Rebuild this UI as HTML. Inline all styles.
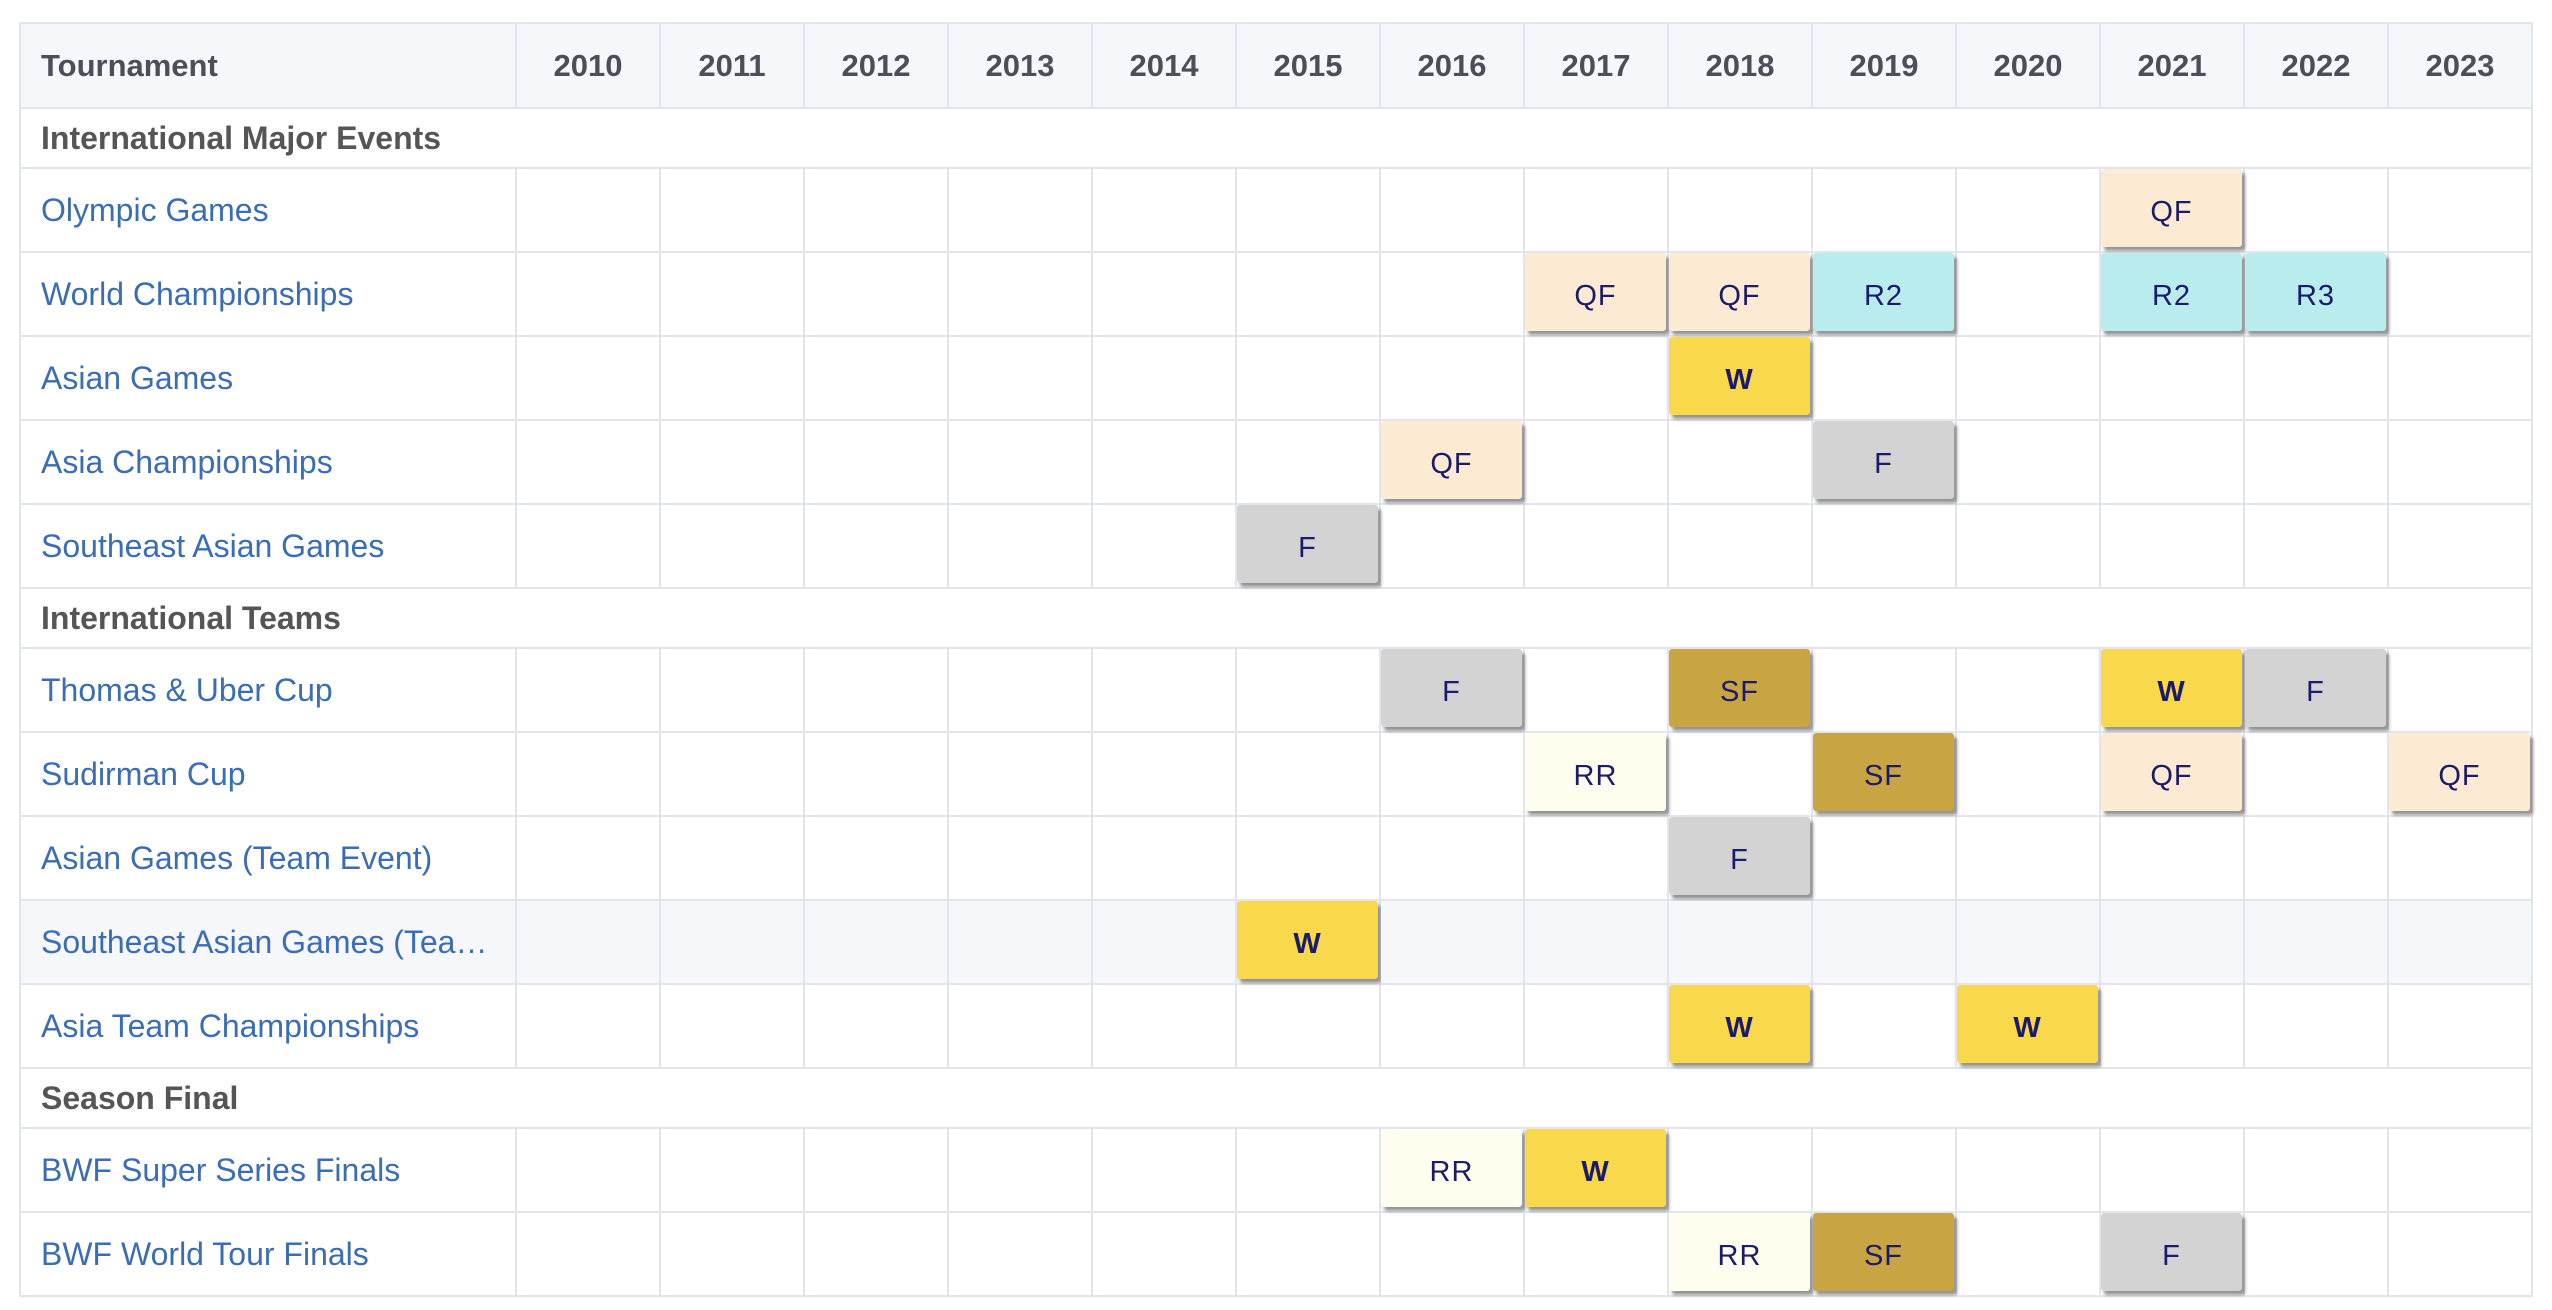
<!DOCTYPE html>
<html><head><meta charset="utf-8"><style>
body{margin:0;width:2552px;height:1310px;background:#fff;font-family:"Liberation Sans",sans-serif;overflow:hidden}
table{position:absolute;left:19px;top:22px;border-collapse:collapse;table-layout:fixed;width:2512px}
td,th{border:2px solid #e2e6ec;padding:0;position:relative}
th{background:#f5f7fa;height:83px;font-size:31px;color:#4a4f5a;font-weight:bold;text-align:center}
th.t{text-align:left;padding-left:20px}
tr.d td{height:82px}
td.n{font-size:32px;color:#3a6db3;padding-left:20px;white-space:nowrap;overflow:hidden}
tr.s td{height:58px;font-size:32px;font-weight:bold;color:#555;padding-left:20px;border-left:2px solid #e2e6ec}
tr.g td{background:#f5f7fa}
.b{position:absolute;left:0px;top:0px;right:1px;bottom:4px;border-radius:3px;box-shadow:3px 4px 3px rgba(60,60,60,.55);display:flex;align-items:center;justify-content:center;padding-top:8px;box-sizing:border-box;font-size:29px;color:#1b1b6b;letter-spacing:1px}
.QF{background:#fcebd2}.R{background:#b9ecec}.W{background:#f9d84b;font-weight:bold}.F{background:#d3d3d3}.SF{background:#c9a443}.RR{background:#fffdee}
</style></head><body>
<table>
<colgroup><col style="width:496px"><col span="14" style="width:144px"></colgroup>
<tr><th class="t">Tournament</th><th>2010</th><th>2011</th><th>2012</th><th>2013</th><th>2014</th><th>2015</th><th>2016</th><th>2017</th><th>2018</th><th>2019</th><th>2020</th><th>2021</th><th>2022</th><th>2023</th></tr>
<tr class="s"><td colspan="15">International Major Events</td></tr>
<tr class="d"><td class="n">Olympic Games</td><td></td><td></td><td></td><td></td><td></td><td></td><td></td><td></td><td></td><td></td><td></td><td><div class="b QF">QF</div></td><td></td><td></td></tr>
<tr class="d"><td class="n">World Championships</td><td></td><td></td><td></td><td></td><td></td><td></td><td></td><td><div class="b QF">QF</div></td><td><div class="b QF">QF</div></td><td><div class="b R">R2</div></td><td></td><td><div class="b R">R2</div></td><td><div class="b R">R3</div></td><td></td></tr>
<tr class="d"><td class="n">Asian Games</td><td></td><td></td><td></td><td></td><td></td><td></td><td></td><td></td><td><div class="b W">W</div></td><td></td><td></td><td></td><td></td><td></td></tr>
<tr class="d"><td class="n">Asia Championships</td><td></td><td></td><td></td><td></td><td></td><td></td><td><div class="b QF">QF</div></td><td></td><td></td><td><div class="b F">F</div></td><td></td><td></td><td></td><td></td></tr>
<tr class="d"><td class="n">Southeast Asian Games</td><td></td><td></td><td></td><td></td><td></td><td><div class="b F">F</div></td><td></td><td></td><td></td><td></td><td></td><td></td><td></td><td></td></tr>
<tr class="s"><td colspan="15">International Teams</td></tr>
<tr class="d"><td class="n">Thomas &amp; Uber Cup</td><td></td><td></td><td></td><td></td><td></td><td></td><td><div class="b F">F</div></td><td></td><td><div class="b SF">SF</div></td><td></td><td></td><td><div class="b W">W</div></td><td><div class="b F">F</div></td><td></td></tr>
<tr class="d"><td class="n">Sudirman Cup</td><td></td><td></td><td></td><td></td><td></td><td></td><td></td><td><div class="b RR">RR</div></td><td></td><td><div class="b SF">SF</div></td><td></td><td><div class="b QF">QF</div></td><td></td><td><div class="b QF">QF</div></td></tr>
<tr class="d"><td class="n">Asian Games (Team Event)</td><td></td><td></td><td></td><td></td><td></td><td></td><td></td><td></td><td><div class="b F">F</div></td><td></td><td></td><td></td><td></td><td></td></tr>
<tr class="d g"><td class="n">Southeast Asian Games (Tea…</td><td></td><td></td><td></td><td></td><td></td><td><div class="b W">W</div></td><td></td><td></td><td></td><td></td><td></td><td></td><td></td><td></td></tr>
<tr class="d"><td class="n">Asia Team Championships</td><td></td><td></td><td></td><td></td><td></td><td></td><td></td><td></td><td><div class="b W">W</div></td><td></td><td><div class="b W">W</div></td><td></td><td></td><td></td></tr>
<tr class="s"><td colspan="15">Season Final</td></tr>
<tr class="d"><td class="n">BWF Super Series Finals</td><td></td><td></td><td></td><td></td><td></td><td></td><td><div class="b RR">RR</div></td><td><div class="b W">W</div></td><td></td><td></td><td></td><td></td><td></td><td></td></tr>
<tr class="d"><td class="n">BWF World Tour Finals</td><td></td><td></td><td></td><td></td><td></td><td></td><td></td><td></td><td><div class="b RR">RR</div></td><td><div class="b SF">SF</div></td><td></td><td><div class="b F">F</div></td><td></td><td></td></tr>
</table>
</body></html>
